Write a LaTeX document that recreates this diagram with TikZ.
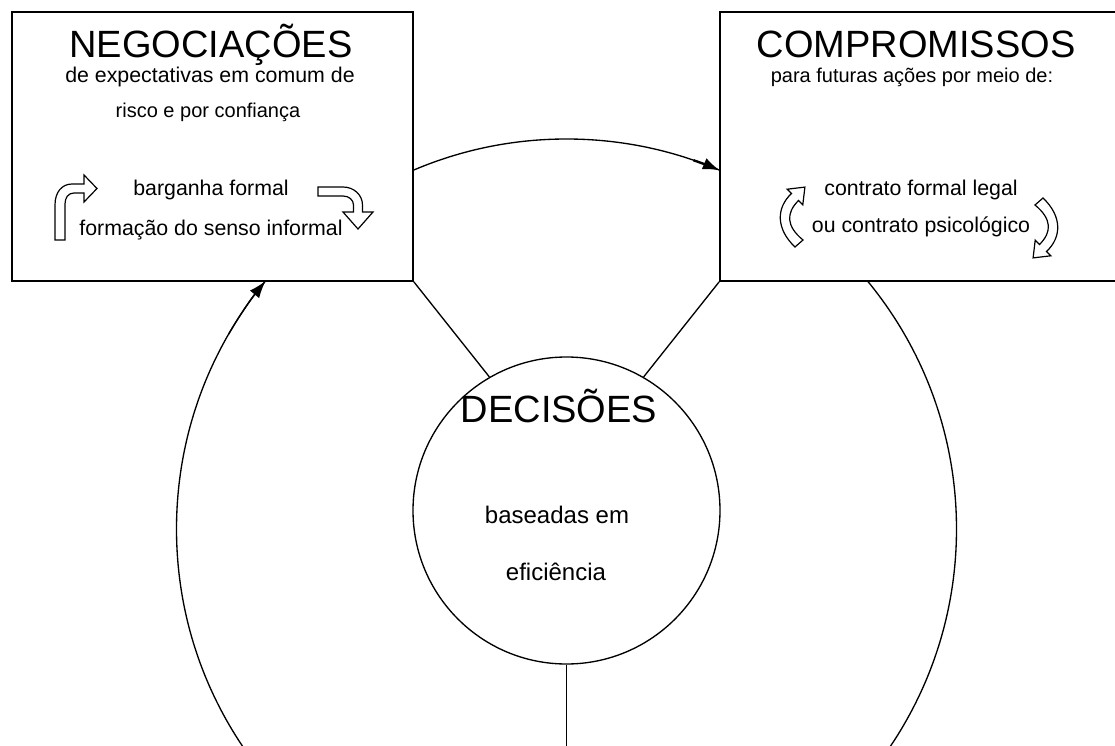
\documentclass[tikz,border=0pt]{standalone}
\usepackage{fontspec}
\setmainfont{Liberation Sans}
\usetikzlibrary{arrows.meta}

\begin{document}
\begin{tikzpicture}[x=0.75pt,y=-0.75pt,line width=1pt]
\tikzstyle{every node}=[inner sep=0pt];
\tikzstyle{box}=[draw,fill=white,line width=1.3pt,minimum height=201.75pt];
\tikzstyle{big}=[anchor=base,font=\fontsize{28.5}{33}\selectfont];
\tikzstyle{small}=[anchor=base,font=\fontsize{16}{19}\selectfont];
\tikzstyle{hollow}=[draw,fill=white,line width=0.9pt,line join=miter];
\tikzstyle{tip}=[-{Latex[length=13pt,width=9pt]}];
\useasboundingbox (0,0) rectangle (1115,746);
% outer cycle
\draw (566.5,529) circle[radius=390];
% decision circle and its links
\node[draw,circle,fill=white,minimum size=230.25pt] (dec) at (566.5,510.5) {};
\coordinate (bottom) at (566.5,746);
\node[box,minimum width=300.75pt] (neg) at (212.5,146.5) {};
\node[box,minimum width=300pt] (comp) at (920,146.5) {};
\draw (neg.south east) -- (dec.120);
\draw (comp.south west) -- (dec.60);
\draw (dec.south) -- (bottom);
% arrow heads on the cycle
\draw[tip,line width=1.8pt] (566.5,529) ++(-71:390) arc[start angle=-71,end angle=-66.8,radius=390];
\draw[tip] (566.5,529) ++(-150:390) arc[start angle=-150,end angle=-140.5,radius=390];
% texts
\node[big] (negt) at (211,57) {NEGOCIAÇÕES};
\node[small] (neg1) at (210,82) {de expectativas em comum de};
\node[small,font=\fontsize{15}{18}\selectfont] (neg2) at (208,117) {risco e por confiança};
\node[small] (barg) at (211,195) {barganha formal};
\node[small] (senso) at (211,235) {formação do senso informal};
\node[big] (compt) at (916,57) {COMPROMISSOS};
\node[small,font=\fontsize{15}{18}\selectfont] (comp1) at (912,82) {para futuras ações por meio de:};
\node[small] (legal) at (921,195) {contrato formal legal};
\node[small] (psic) at (921,232) {ou contrato psicológico};
\node[big] (dect) at (559,422) {DECISÕES};
\node[small,font=\fontsize{18}{21}\selectfont] (dec1) at (557,523) {baseadas em};
\node[small,font=\fontsize{18}{21}\selectfont] (dec2) at (556,580) {eficiência};
% hollow arrows
\draw[hollow] (55,240) -- (55,205) .. controls (55,192) and (62,184) .. (72,184) -- (84,184)
  -- (84,175) -- (97,188.5) -- (84,202) -- (84,193) -- (74,193)
  .. controls (68,193) and (65,198) .. (65,204) -- (65,240) -- cycle;
\draw[hollow] (318,187) -- (343,187) .. controls (354,187) and (362.5,195) .. (362.5,205)
  -- (362.5,212) -- (373,212) -- (358,229) -- (343,212) -- (353.5,212) -- (353.5,205)
  .. controls (353.5,200) and (349,196) .. (343,196) -- (318,196) -- cycle;
\draw[hollow] (795,247) .. controls (776,229) and (776,208) .. (791.5,193.5) -- (787.2,189.2)
  -- (804.9,187.1) -- (802.8,204.8) -- (798.5,200.5)
  .. controls (786,213) and (786,226) .. (803,240) -- cycle;
\draw[hollow] (1043,198) .. controls (1062,216) and (1062,237) .. (1046.5,251.5) -- (1050.8,255.8)
  -- (1033.1,257.9) -- (1035.2,240.2) -- (1039.5,244.5)
  .. controls (1052,232) and (1052,219) .. (1035,205) -- cycle;
\end{tikzpicture}
\end{document}
